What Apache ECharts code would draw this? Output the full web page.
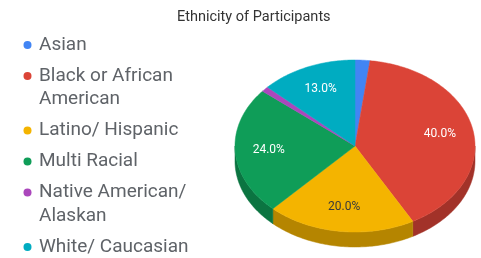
<!DOCTYPE html>
<html>
<head>
<meta charset="utf-8">
<script src="https://cdn.jsdelivr.net/npm/echarts@6/dist/echarts.min.js"></script>
<style>
html, body { margin: 0; padding: 0; background: #fff; }
#chart { width: 481px; height: 258px; }
</style>
</head>
<body>
<div id="chart"></div>
<script>
// legend names as they are wrapped in the picture
var categories = ['Asian', 'Black or African\nAmerican', 'Latino/ Hispanic', 'Multi Racial', 'Native American/\nAlaskan', 'White/ Caucasian'];
var shares = [2, 40, 20, 24, 1, 13];
var colors = ['#4285f4', '#db4437', '#f4b400', '#0f9d58', '#ab47bc', '#00acc1'];
var labelColors = ['#fff', '#fff', '#3a3a3a', '#fff', '#fff', '#fff'];

var total = shares.reduce(function (a, b) { return a + b; }, 0);
// tilted pie: top face ellipse + wall depth
var pie = { cx: 355, cy: 146, rx: 120, ry: 86, depth: 15 };

function darken(hex, k) {
  var n = parseInt(hex.slice(1), 16);
  var r = Math.round(((n >> 16) & 255) * k);
  var g = Math.round(((n >> 8) & 255) * k);
  var b = Math.round((n & 255) * k);
  return 'rgb(' + r + ',' + g + ',' + b + ')';
}

function rimPoint(theta, dy, f) {
  f = f == null ? 1 : f;
  return [pie.cx + pie.rx * f * Math.sin(theta), pie.cy - pie.ry * f * Math.cos(theta) + (dy || 0)];
}

function arc(a0, a1, dy) {
  var pts = [];
  var n = Math.max(2, Math.ceil((a1 - a0) / (Math.PI / 180)));
  for (var i = 0; i <= n; i++) {
    pts.push(rimPoint(a0 + (a1 - a0) * i / n, dy));
  }
  return pts;
}

function renderSlice(params, api) {
  var idx = params.dataIndex;
  var value = api.value(0);
  var before = 0;
  for (var j = 0; j < idx; j++) before += shares[j];
  var a0 = before / total * Math.PI * 2;
  var a1 = (before + value) / total * Math.PI * 2;
  var color = colors[idx];
  var children = [];

  // front wall (only the lower half of the rim is visible)
  var w0 = Math.max(a0, Math.PI / 2);
  var w1 = Math.min(a1, Math.PI * 3 / 2);
  if (w1 > w0) {
    var top = arc(w0, w1, 0);
    var bottom = arc(w0, w1, pie.depth).reverse();
    children.push({
      type: 'polygon',
      shape: { points: top.concat(bottom) },
      style: { fill: darken(color, 0.74), stroke: darken(color, 0.74), lineWidth: 0.5 }
    });
  }

  // top face
  children.push({
    type: 'polygon',
    shape: { points: [[pie.cx, pie.cy]].concat(arc(a0, a1, 0)) },
    style: { fill: color, stroke: color, lineWidth: 0.5 }
  });

  var pct = value / total * 100;
  if (pct >= 5) {
    var mid = rimPoint((a0 + a1) / 2, 0, 0.72);
    children.push({
      type: 'text',
      x: mid[0],
      y: mid[1],
      style: {
        text: pct.toFixed(1) + '%',
        fill: labelColors[idx],
        font: '12px Roboto',
        align: 'center',
        verticalAlign: 'middle'
      }
    });
  }
  return { type: 'group', children: children };
}

// legend drawn by hand so wrapped names keep the dot on the first line
var legendGraphics = [];
var ly = 45;
categories.forEach(function (name, i) {
  var lines = name.split('\n').length;
  legendGraphics.push({
    type: 'circle',
    shape: { cx: 27.5, cy: ly, r: 4 },
    style: { fill: colors[i] }
  });
  legendGraphics.push({
    type: 'text',
    x: 39,
    y: ly - 11.75,
    style: {
      text: name,
      font: '19px Roboto',
      lineHeight: 23.5,
      fill: '#5f6368',
      verticalAlign: 'top'
    }
  });
  ly += lines * 23.5 + 7.5;
});

var chart = echarts.init(document.getElementById('chart'));
chart.setOption({
  backgroundColor: '#fff',
  animation: false,
  title: {
    text: 'Ethnicity of Participants',
    left: 172,
    top: 5,
    textStyle: { fontSize: 14.5, fontWeight: 'normal', color: '#333', fontFamily: 'Roboto' }
  },
  graphic: legendGraphics,
  series: [{
    type: 'custom',
    coordinateSystem: 'none',
    renderItem: renderSlice,
    data: shares.map(function (v) { return [v]; })
  }]
});
</script>
</body>
</html>
